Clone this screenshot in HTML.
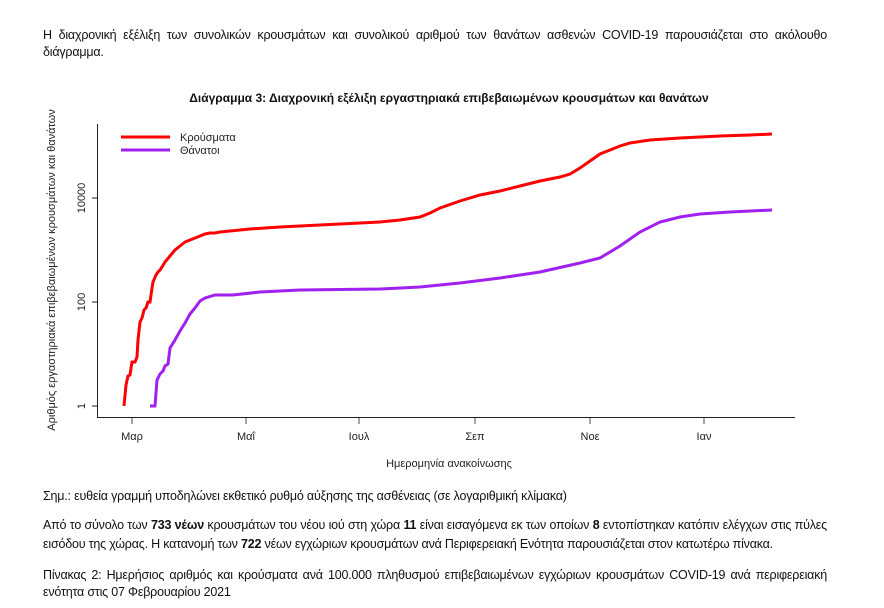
<!DOCTYPE html>
<html><head><meta charset="utf-8"><style>
body{margin:0;width:884px;height:608px;background:#fff;position:relative;font-family:"Liberation Sans","DejaVu Sans",sans-serif;color:#111;overflow:hidden}
.p{position:absolute;left:43px;width:784px;font-size:12.5px;line-height:18px;text-align:justify;letter-spacing:-0.2px}
.j{text-align-last:justify}
svg{position:absolute;left:0;top:0}
</style></head><body>
<div class="p j" style="top:26px">Η διαχρονική εξέλιξη των συνολικών κρουσμάτων και συνολικού αριθμού των θανάτων ασθενών COVID-19 παρουσιάζεται στο ακόλουθο</div>
<div class="p" style="top:43px">διάγραμμα.</div>
<svg width="884" height="608" font-family="Liberation Sans, DejaVu Sans, sans-serif">
<text x="449" y="102" text-anchor="middle" font-size="12" font-weight="bold" fill="#111">Διάγραμμα 3: Διαχρονική εξέλιξη εργαστηριακά επιβεβαιωμένων κρουσμάτων και θανάτων</text>
<line x1="97.5" y1="124" x2="97.5" y2="417.5" stroke="#222" stroke-width="1"/>
<line x1="97" y1="417.5" x2="795" y2="417.5" stroke="#222" stroke-width="1"/>
<g stroke="#222"><line x1="92" y1="406" x2="97" y2="406"/><line x1="92" y1="302" x2="97" y2="302"/><line x1="92" y1="198" x2="97" y2="198"/></g>
<g font-size="11" fill="#222" text-anchor="middle">
<text transform="translate(85,406) rotate(-90)">1</text>
<text transform="translate(85,302) rotate(-90)">100</text>
<text transform="translate(85,198) rotate(-90)">10000</text>
<text transform="translate(55,270) rotate(-90)" font-size="11">Αριθμός εργαστηριακά επιβεβαιωμένων κρουσμάτων και θανάτων</text>
</g>
<g stroke="#888" stroke-width="1.5"><line x1="132" y1="418" x2="132" y2="424"/><line x1="246" y1="418" x2="246" y2="424"/><line x1="359" y1="418" x2="359" y2="424"/><line x1="475" y1="418" x2="475" y2="424"/><line x1="590" y1="418" x2="590" y2="424"/><line x1="704" y1="418" x2="704" y2="424"/></g>
<g font-size="11" fill="#222" text-anchor="middle">
<text x="132" y="440">Μαρ</text><text x="246" y="440">Μαΐ</text><text x="359" y="440">Ιουλ</text><text x="475" y="440">Σεπ</text><text x="590" y="440">Νοε</text><text x="704" y="440">Ιαν</text>
<text x="449" y="467">Ημερομηνία ανακοίνωσης</text>
</g>
<line x1="121" y1="137" x2="170" y2="137" stroke="#f00" stroke-width="3"/>
<line x1="121" y1="150" x2="170" y2="150" stroke="#a020f0" stroke-width="3"/>
<text x="180" y="141" font-size="11" fill="#222">Κρούσματα</text>
<text x="180" y="154" font-size="11" fill="#222">Θάνατοι</text>
<polyline fill="none" stroke="#f00" stroke-width="3" points="124,406 126,385 128,376 130,375 132,362 135,362 137,357 138,340 140,322 142,318 144,310 146,308 148,302 150,302 152,288 153,282 156,275 158,272 160,270 162,267 165,262 170,256 175,250 180,246 185,242 190,240 195,238 200,236 205,234 210,233 215,233 220,232 230,231 250,229 280,227 320,225 360,223 380,222 400,220 420,217 430,213 440,208 460,201 480,195 500,191 520,186 540,181 560,177 570,174 580,168 590,161 600,154 610,150 620,146 630,143 650,140 680,138 720,136 750,135 772,134"/>
<polyline fill="none" stroke="#a020f0" stroke-width="3" points="150,406 155,406 157,380 160,374 163,371 165,366 168,364 170,348 175,340 180,331 185,323 190,314 195,308 200,301 205,298 215,295 233,295 260,292 300,290 380,289 420,287 460,283 500,278 540,272 580,263 600,258 620,246 640,232 660,222 680,217 700,214 730,212 772,210"/>
</svg>
<div class="p" style="top:487px">Σημ.: ευθεία γραμμή υποδηλώνει εκθετικό ρυθμό αύξησης της ασθένειας (σε λογαριθμική κλίμακα)</div>
<div class="p j" style="top:516px">Από το σύνολο των <b>733 νέων</b> κρουσμάτων του νέου ιού στη χώρα <b>11</b> είναι εισαγόμενα εκ των οποίων <b>8</b> εντοπίστηκαν κατόπιν ελέγχων στις πύλες</div>
<div class="p" style="top:535px">εισόδου της χώρας. Η κατανομή των <b>722</b> νέων εγχώριων κρουσμάτων ανά Περιφερειακή Ενότητα παρουσιάζεται στον κατωτέρω πίνακα.</div>
<div class="p j" style="top:566px">Πίνακας 2: Ημερήσιος αριθμός και κρούσματα ανά 100.000 πληθυσμού επιβεβαιωμένων εγχώριων κρουσμάτων COVID-19 ανά περιφερειακή</div>
<div class="p" style="top:583px">ενότητα στις 07 Φεβρουαρίου 2021</div>
</body></html>
